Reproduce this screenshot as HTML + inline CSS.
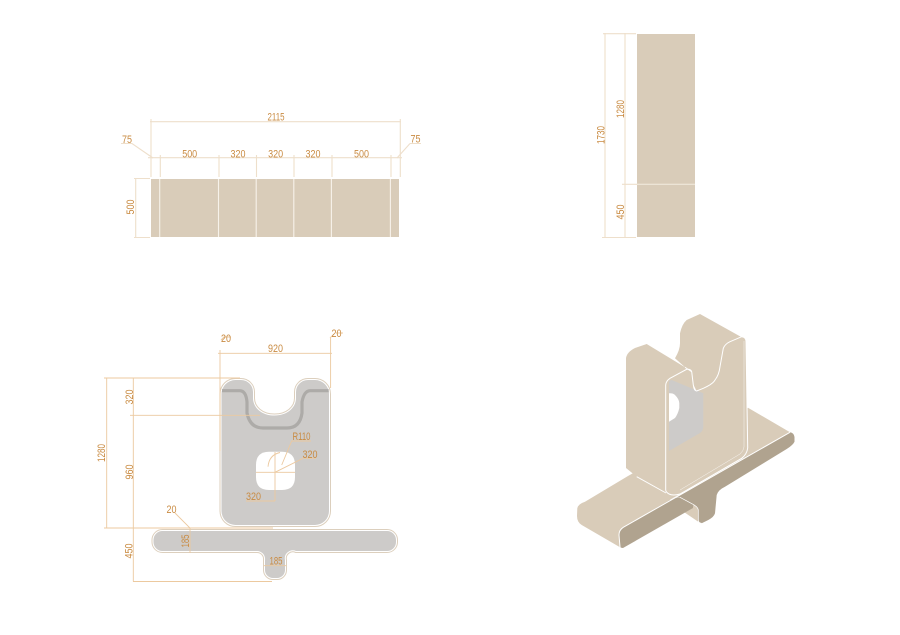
<!DOCTYPE html>
<html><head><meta charset="utf-8"><style>
html,body{margin:0;padding:0;background:#fff;width:900px;height:635px;overflow:hidden}
svg{display:block}
text{font-family:"Liberation Sans",sans-serif;font-size:11px;fill:#c98b42;text-anchor:middle}
.d{stroke:#eedfcb;stroke-width:1.1;fill:none}
.o{stroke:#ecc99f;stroke-width:.9;fill:none}
</style></head><body>
<svg width="900" height="635" viewBox="0 0 900 635" xmlns="http://www.w3.org/2000/svg">
<rect width="900" height="635" fill="#fff"/>

<!-- top-left elevation -->
<rect x="151" y="179" width="248" height="58" fill="#d9ccb9"/>
<path d="M159.700 179V237M218.500 179V237M256.200 179V237M293.800 179V237M331.400 179V237M390.400 179V237" stroke="#f7f2ea" stroke-width="1.1"/>
<path class="d" d="M151 119V177M400.300 119V177M150 121.700H401M148 157.700H402M160.300 155V177M219 155V177M256.500 155V177M294 155V177M332 155V177M391 155V177M135.700 178V238M134 178.500H150M134 237.500H150"/>
<path class="d" d="M121 143.500H132L153 158M410 143.500H421M410 143.500L397 158"/>
<g>
<text x="276" y="120.500" textLength="17" lengthAdjust="spacingAndGlyphs">2115</text>
<text x="127" y="143" textLength="10" lengthAdjust="spacingAndGlyphs">75</text>
<text x="415.500" y="142.500" textLength="10" lengthAdjust="spacingAndGlyphs">75</text>
<text x="189.700" y="157.500" textLength="15" lengthAdjust="spacingAndGlyphs">500</text>
<text x="238" y="157.500" textLength="15" lengthAdjust="spacingAndGlyphs">320</text>
<text x="275.600" y="157.500" textLength="15" lengthAdjust="spacingAndGlyphs">320</text>
<text x="313" y="157.500" textLength="15" lengthAdjust="spacingAndGlyphs">320</text>
<text x="361.500" y="157.500" textLength="15" lengthAdjust="spacingAndGlyphs">500</text>
<text transform="translate(134,207) rotate(-90)" textLength="15" lengthAdjust="spacingAndGlyphs">500</text>
</g>

<!-- top-right elevation -->
<rect x="637" y="34" width="58" height="203" fill="#d9ccb9"/>
<path d="M637 184.300H695" stroke="#f3ebdf" stroke-width="1"/>
<path class="d" d="M603 33.700H636M602 237.500H636M605 33V238M625 33V238M622 184.300H637"/>
<text transform="translate(604.500,135) rotate(-90)" textLength="18" lengthAdjust="spacingAndGlyphs">1730</text>
<text transform="translate(624,109) rotate(-90)" textLength="18" lengthAdjust="spacingAndGlyphs">1280</text>
<text transform="translate(624,212) rotate(-90)" textLength="15" lengthAdjust="spacingAndGlyphs">450</text>

<!-- plan: plate -->
<defs>
<path id="pl" d="M221.500 394A14 14 0 0 1 235.500 380H241A12 12 0 0 1 253 392V398C253 408 262 415.500 274.500 415.500C287 415.500 296 408 296 398V392A12 12 0 0 1 308 380H315A14 14 0 0 1 329 394V511A14 14 0 0 1 315 525H235.500A14 14 0 0 1 221.500 511Z"/>
<path id="bs" d="M153.500 540A9 9 0 0 1 162.500 531H387A9 9 0 0 1 396 540V542A9 9 0 0 1 387 551H296A8 8 0 0 0 285 560V570A8 8 0 0 1 277 578H273A8 8 0 0 1 265 570V560A8 8 0 0 0 257 551H162.500A9 9 0 0 1 153.500 542Z"/>
</defs>
<use href="#pl" fill="none" stroke="#dccfbd" stroke-width="4"/>
<use href="#pl" fill="none" stroke="#fff" stroke-width="2"/>
<use href="#pl" fill="#cdcbc9"/>
<path d="M222 390.700H240Q246 391 247 402V413Q250 428 263 428H287Q300 428 302 413V402Q304 391 310 390.700H328.700" fill="none" stroke="#adaba8" stroke-width="3.200"/>
<path d="M269 451.700H282Q295 451.700 295 465V477Q295 490 282 490H269Q256 490 256 477V465Q256 451.700 269 451.700Z" fill="#fff"/>
<use href="#bs" fill="none" stroke="#dccfbd" stroke-width="4"/>
<use href="#bs" fill="none" stroke="#fff" stroke-width="2"/>
<use href="#bs" fill="#cdcbc9"/>

<!-- plan dims -->
<path class="o" d="M218 353.300H332M220 350V451M330.600 338V388M330 338L334 334M336 333H343M221 340L224 337H231"/>
<path class="o" d="M106.700 378V528M104 378H240M104 528H273M133.300 378V581.500M130 415.300H260M133 581.500H272"/>
<path class="o" d="M256 472.300H295M275 452V501M246 501H275M275 472.300L303 458.300H316M281.700 465L291.700 441H311"/>
<path class="o" d="M268 466.700Q269 455 280 452.500"/>
<path class="o" d="M175 513L190 528V553M264 565.700H286"/>
<g>
<text x="226" y="342" textLength="10" lengthAdjust="spacingAndGlyphs">20</text>
<text x="336.500" y="337" textLength="10" lengthAdjust="spacingAndGlyphs">20</text>
<text x="275.500" y="352" textLength="15" lengthAdjust="spacingAndGlyphs">920</text>
<text transform="translate(133,397) rotate(-90)" textLength="15" lengthAdjust="spacingAndGlyphs">320</text>
<text transform="translate(133,472) rotate(-90)" textLength="15" lengthAdjust="spacingAndGlyphs">960</text>
<text transform="translate(105,453) rotate(-90)" textLength="18" lengthAdjust="spacingAndGlyphs">1280</text>
<text transform="translate(132.500,551) rotate(-90)" textLength="15" lengthAdjust="spacingAndGlyphs">450</text>
<text transform="translate(189,541) rotate(-90)" textLength="13" lengthAdjust="spacingAndGlyphs">185</text>
<text x="301.500" y="440" textLength="18" lengthAdjust="spacingAndGlyphs">R110</text>
<text x="310" y="458" textLength="15" lengthAdjust="spacingAndGlyphs">320</text>
<text x="253.500" y="500" textLength="15" lengthAdjust="spacingAndGlyphs">320</text>
<text x="171.500" y="513" textLength="10" lengthAdjust="spacingAndGlyphs">20</text>
<text x="276" y="564.500" textLength="13" lengthAdjust="spacingAndGlyphs">185</text>
</g>

<!-- isometric -->
<!-- base top -->
<path d="M577.300 508.300Q578 504 585 501.700L628 476L748 407.700L790 432.300L623.300 527.300Q619 530 619 535L620 547.300L581.700 525Q577 522 577 516Z" fill="#d9ccb9"/>
<!-- dark stem + band -->
<path d="M790 432.300Q794 433 794.500 437V441.700Q793 445 786.700 449L725 486.700Q718 490 716.700 495L715 513.300Q714 517 708.300 520L701.700 523.300Q698.300 523 698.300 520V510Q698 507 693.300 504.300L680 497.300L673 498.300Z" fill="#b0a38f"/>
<path d="M680 497.300L693 504.500Q698 507 698.300 510V521.700L685 512.700Z" fill="#d9ccb9"/>
<path d="M686.700 497 L693.300 504.300L693 508L623 548Q620.500 548 620 546.500L619 535Q619 530 623.300 527.300L673 498.300Z" fill="#b0a38f"/>
<path d="M680 497.300L693 504.300Q698 507 698.300 510V520Q698.300 523 701.700 523.300" fill="none" stroke="#fff" stroke-width=".7"/>
<path d="M790 432.300L623.300 527.300Q619 530 619 535L620 547" fill="none" stroke="#fff" stroke-width="1"/>
<!-- back panel -->
<path d="M675 358.300Q680 350 680 343.300V333.300Q682 324 686.700 320L700 314L741.700 337.300L730 341.700L715 385L697 392L685 367.300Z" fill="#d9ccb9"/>
<!-- left panel -->
<path d="M626 468V358Q627 352 635 348L646.700 344L685 367.300L691 372L680 400L667 495L636.700 476.700Z" fill="#d9ccb9"/>
<!-- front panel with window -->
<path d="M665.700 490V385Q666 381 670 378.300L686.700 369.300Q691 369 691.700 371.700L693.300 385Q694 391 696.700 391L703.300 388.300Q713 384 715 380Q719 375 720 366.700L723.300 348.300Q725 344 730 341.700L741.700 336.700Q746 337 746 341.700L747.700 448Q747 454 741.700 458.300L680 494Q673 496 669 494Q665.700 492 665.700 490Z" fill="#d9ccb9"/>
<!-- grey window -->
<path d="M669 381L671.700 380L703.300 393.300V426.700Q703 431 700 433L669 451Z" fill="#cdcbc9"/>
<path d="M669 393.300Q673 393 675 395Q679 399 679.300 403V408Q678 414 675 418L669 421.700Z" fill="#fff"/>
<!-- white outlines -->
<path d="M665.700 490V385Q666 381 670 378.300L686.700 369.300Q691 369 691.700 371.700L693.300 385Q694 391 696.700 391L703.300 388.300Q713 384 715 380Q719 375 720 366.700L723.300 348.300Q725 344 730 341.700L741.700 336.700Q746 337 746 341.700L747.700 448Q747 454 741.700 458.300L680 494Q673 496 669 494Q665.700 492 665.700 490Z" fill="none" stroke="#fff" stroke-width="1"/>
<path d="M744 341V447Q743.500 451 740 454L680 490" fill="none" stroke="#fff" stroke-width=".5" opacity=".8"/>
<path d="M685 367.300L691.700 371.700M636.700 476.700L666 493" fill="none" stroke="#fff" stroke-width=".9"/>
<path d="M741.700 458.300L670 500" fill="none" stroke="#fff" stroke-width=".5"/>
</svg>
</body></html>
